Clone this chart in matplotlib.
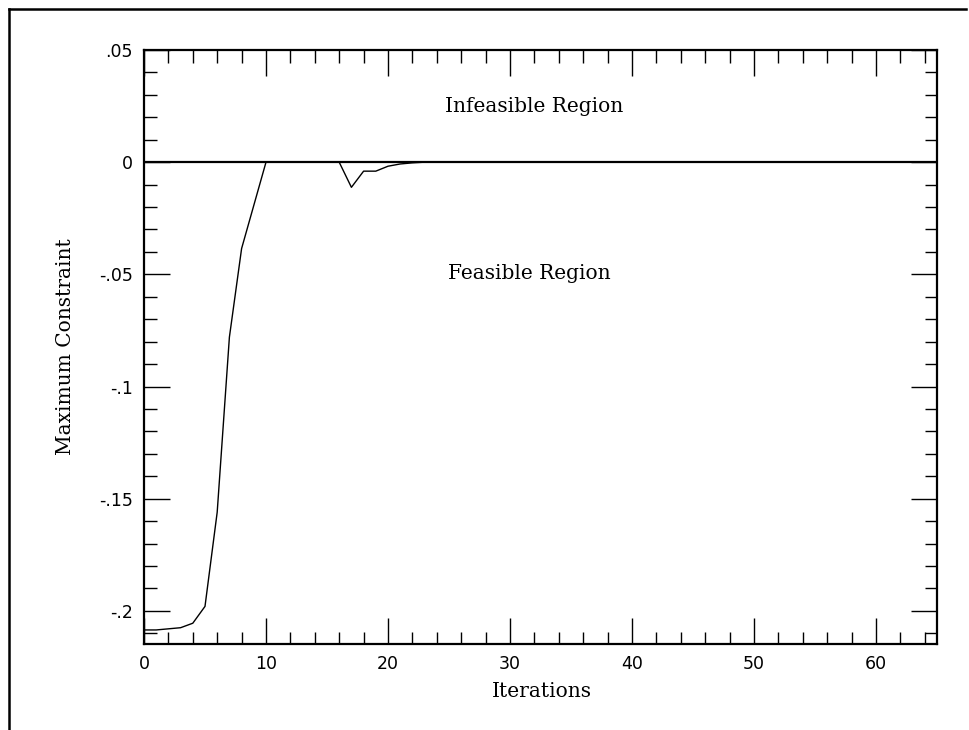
import matplotlib.pyplot as plt
from matplotlib.ticker import MultipleLocator, FixedLocator, FixedFormatter
from matplotlib.lines import Line2D

# iteration history
iters = [0, 1, 2, 3, 4, 5, 6, 7, 8, 10, 16, 17, 18, 19, 20, 21, 22, 23, 64]
max_con = [-0.2085, -0.2085, -0.208, -0.2075, -0.2055, -0.198, -0.156, -0.078,
           -0.0385, 0.0, 0.0, -0.0112, -0.004, -0.004, -0.0018, -0.0008, -0.0003, 0.0, 0.0]

ytick_vals = [0.05, 0.0, -0.05, -0.1, -0.15, -0.2]
ytick_labels = [".05", "0", "-.05", "-.1", "-.15", "-.2"]
xtick_vals = [0, 10, 20, 30, 40, 50, 60]

fig = plt.figure(figsize=(9.69, 7.30), dpi=100)
ax = fig.add_axes([0.1486, 0.118, 0.8184, 0.8135])

ax.axhline(0, color="black", lw=1.6)
ax.plot(iters, max_con, color="black", lw=1.0)

ax.set_xlim(0, 65)
ax.set_ylim(-0.2147, 0.05)

ax.xaxis.set_major_locator(FixedLocator(xtick_vals))
ax.xaxis.set_minor_locator(MultipleLocator(2))
ax.yaxis.set_major_locator(FixedLocator(ytick_vals))
ax.yaxis.set_major_formatter(FixedFormatter(ytick_labels))
ax.yaxis.set_minor_locator(MultipleLocator(0.01))

ax.tick_params(which="both", direction="in", top=True, right=True,
               labelsize=12.5, colors="black", labelcolor="black", width=1.0)
ax.tick_params(which="major", length=19, pad=8)
ax.tick_params(which="minor", length=9)
for lab in ax.get_xticklabels() + ax.get_yticklabels():
    lab.set_family("DejaVu Sans")

for sp in ax.spines.values():
    sp.set_linewidth(1.6)

ax.text(32.0, 0.025, "Infeasible Region", ha="center", va="center",
        family="DejaVu Serif", fontsize=14.5)
ax.text(31.6, -0.0496, "Feasible Region", ha="center", va="center",
        family="DejaVu Serif", fontsize=14.5)
ax.set_xlabel("Iterations", family="DejaVu Serif", fontsize=14.5)
ax.xaxis.set_label_coords(0.502, -0.064)
ax.set_ylabel("Maximum Constraint", family="DejaVu Serif", fontsize=14.5)
ax.yaxis.set_label_coords(-0.087, 0.5)

# frame of the scanned page (left and top edges only)
fig.add_artist(Line2D([0.0093, 0.0093], [0.0, 0.9877], color="black", lw=1.8,
                      transform=fig.transFigure))
fig.add_artist(Line2D([0.0093, 0.997], [0.9877, 0.9877], color="black", lw=1.8,
                      transform=fig.transFigure))

fig.savefig("out.png", dpi=100)
